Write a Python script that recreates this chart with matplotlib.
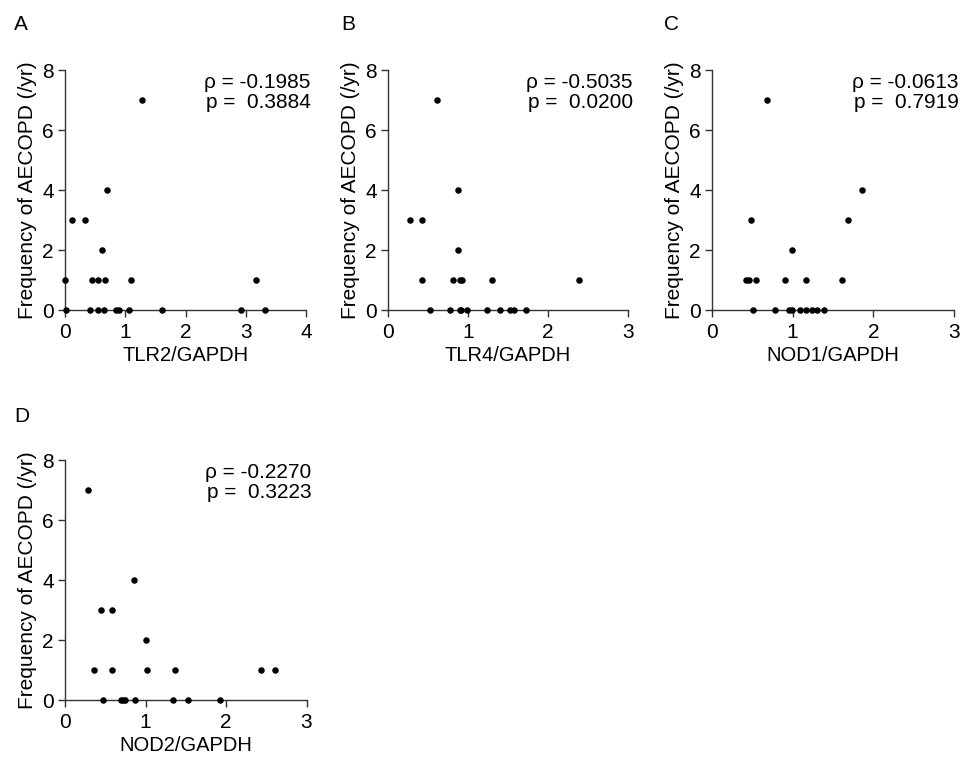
import matplotlib
matplotlib.use("Agg")
import matplotlib.pyplot as plt

plt.rcParams['font.family'] = ['Liberation Sans', 'DejaVu Sans']

# Panel A: TLR2/GAPDH
tlr2_x = [1.28, 0.70, 0.12, 0.34, 0.61, 0.00, 0.45, 0.54, 0.67, 1.10, 3.17,
          0.02, 0.41, 0.54, 0.65, 0.85, 0.89, 1.06, 1.61, 2.92, 3.32]
tlr2_y = [7, 4, 3, 3, 2, 1, 1, 1, 1, 1, 1,
          0, 0, 0, 0, 0, 0, 0, 0, 0, 0]

# Panel B: TLR4/GAPDH
tlr4_x = [0.61, 0.87, 0.28, 0.43, 0.88, 0.43, 0.81, 0.90, 0.92, 1.30, 2.39,
          0.52, 0.78, 0.90, 0.91, 0.99, 1.24, 1.40, 1.53, 1.57, 1.73]
tlr4_y = [7, 4, 3, 3, 2, 1, 1, 1, 1, 1, 1,
          0, 0, 0, 0, 0, 0, 0, 0, 0, 0]

# Panel C: NOD1/GAPDH
nod1_x = [0.68, 1.86, 0.48, 1.68, 0.99, 0.42, 0.46, 0.55, 0.90, 1.17, 1.61,
          0.51, 0.78, 0.96, 0.99, 1.09, 1.16, 1.24, 1.30, 1.39]
nod1_y = [7, 4, 3, 3, 2, 1, 1, 1, 1, 1, 1,
          0, 0, 0, 0, 0, 0, 0, 0, 0]

# Panel D: NOD2/GAPDH
nod2_x = [0.28, 0.86, 0.45, 0.59, 1.00, 0.36, 0.58, 1.02, 1.37, 2.43, 2.61,
          0.47, 0.69, 0.72, 0.74, 0.87, 1.34, 1.53, 1.92]
nod2_y = [7, 4, 3, 3, 2, 1, 1, 1, 1, 1, 1,
          0, 0, 0, 0, 0, 0, 0, 0]

panels = [
    ("A", tlr2_x, tlr2_y, "TLR2/GAPDH", [0, 1, 2, 3, 4], "\u03c1 = -0.1985", "p =  0.3884"),
    ("B", tlr4_x, tlr4_y, "TLR4/GAPDH", [0, 1, 2, 3], "\u03c1 = -0.5035", "p =  0.0200"),
    ("C", nod1_x, nod1_y, "NOD1/GAPDH", [0, 1, 2, 3], "\u03c1 = -0.0613", "p =  0.7919"),
    ("D", nod2_x, nod2_y, "NOD2/GAPDH", [0, 1, 2, 3], "\u03c1 = -0.2270", "p =  0.3223"),
]
y_ticks = [0, 2, 4, 6, 8]
ylabel = "Frequency of AECOPD (/yr)"

W, H = 964, 763
fig = plt.figure(figsize=(W / 100, H / 100), dpi=100)

# axes rectangles in pixels: (x0, x1, ytop, ybottom)
rects = [(65, 306, 70, 310), (388, 628, 70, 310), (712, 954, 70, 310), (65, 306.5, 460, 700)]
letter_pos = [(14, 25), (341, 25), (664, 25), (14, 416)]

for (letter, xs, ys, xlabel, xt, t1, t2), (x0, x1, yt, yb), (lx, ly) in zip(panels, rects, letter_pos):
    ax = fig.add_axes([x0 / W, 1 - yb / H, (x1 - x0) / W, (yb - yt) / H])
    ax.scatter(xs, ys, s=22, color='black', zorder=3, clip_on=False, linewidths=0)
    ax.set_xlim(0, xt[-1])
    ax.set_ylim(0, 8)
    ax.set_xticks(xt)
    ax.set_yticks(y_ticks)
    for s in ['top', 'right']:
        ax.spines[s].set_visible(False)
    for s in ['left', 'bottom']:
        ax.spines[s].set_color('#333333')
        ax.spines[s].set_linewidth(1.0)
    ax.tick_params(axis='both', direction='out', length=5, width=1.0, color='#333333',
                   labelsize=15)
    ax.tick_params(axis='x', pad=4)
    ax.tick_params(axis='y', pad=3)
    ax.set_xlabel(xlabel, fontsize=14.5, labelpad=3)
    ax.set_ylabel(ylabel, fontsize=15, labelpad=4)
    ax.text(1.02, 0.924, t1, transform=ax.transAxes, ha='right', va='baseline', fontsize=15)
    ax.text(1.02, 0.840, t2, transform=ax.transAxes, ha='right', va='baseline', fontsize=15)
    fig.text(lx / W, 1 - ly / H, letter, fontsize=15, ha='left', va='center')

fig.savefig("out.png", dpi=100)
